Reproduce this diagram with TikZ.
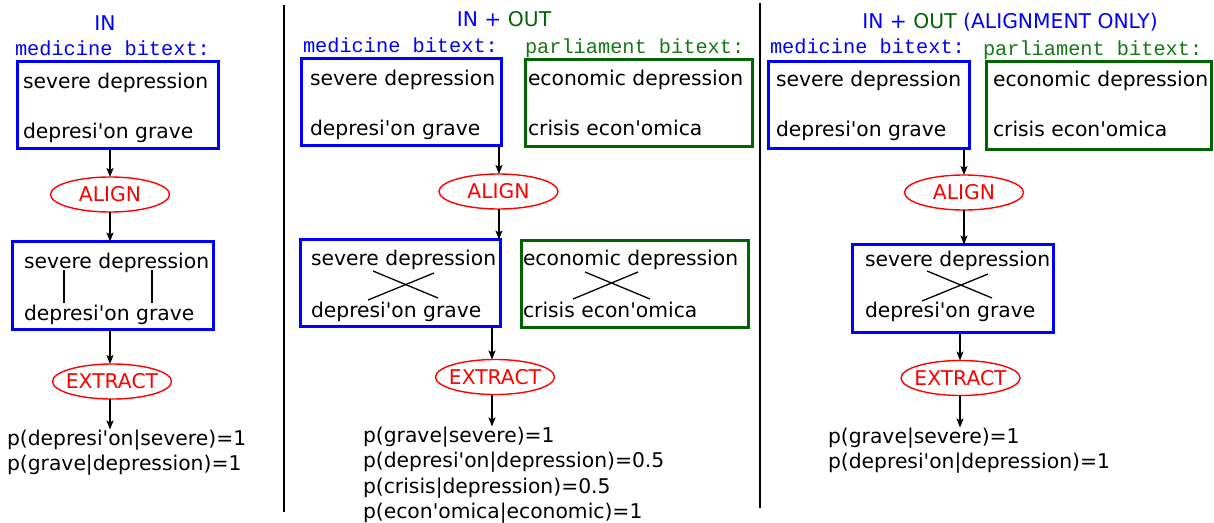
\documentclass[tikz,border=0pt]{standalone}
\usepackage{fontspec}
\setmainfont{DejaVu Sans}[Ligatures=TeXOff]
\setmonofont{Liberation Mono}[Ligatures=TeXOff]
\usetikzlibrary{shapes.geometric,arrows.meta}
\definecolor{ogreen}{RGB}{0,100,0}
\definecolor{lgreen}{RGB}{20,120,20}
\begin{document}
\begin{tikzpicture}[x=1pt,y=-1pt,
  every node/.style={inner sep=0pt, outer sep=0pt},
  txt/.style={anchor=base west, font=\fontsize{20.3}{24}\selectfont},
  lbl/.style={anchor=base west, font=\fontsize{20.3}{24}\selectfont\ttfamily},
  ttl/.style={anchor=base, font=\fontsize{20.3}{24}\selectfont},
  bbox/.style={draw=blue, line width=3pt, rectangle},
  gbox/.style={draw=ogreen, line width=3pt, rectangle},
  op/.style={ellipse, draw=red, text=red, line width=1.4pt, inner xsep=-6pt, minimum width=119pt, minimum height=35pt, font=\fontsize{20.3}{24}\selectfont},
  arr/.style={-{Stealth[length=9pt,width=7pt,inset=2pt]}, line width=1.4pt},
  aln/.style={line width=1.3pt},
  sepline/.style={line width=1.5pt}]
\useasboundingbox (0,0) rectangle (1214,522);

% separators
\coordinate (s1a) at (284,5); \coordinate (s1b) at (284,512);
\coordinate (s2a) at (760,3); \coordinate (s2b) at (760,508);
\draw[sepline] (s1a) -- (s1b);
\draw[sepline] (s2a) -- (s2b);

% ================= Panel 1: IN =================
\node[ttl, text=blue] (t1) at (105,30) {IN};
\node[lbl, text=blue] (m1) at (15,55) {medicine bitext:};
\node[bbox, minimum width=201pt, minimum height=87pt] (b11) at (118,105) {};
\node[txt] (s11) at (23,88) {severe depression};
\node[txt] (d11) at (23,138) {depresi'on grave};
\node[op] (al1) at (110,194.5) {ALIGN};
\node[bbox, minimum width=201pt, minimum height=88pt] (b12) at (113,285.5) {};
\node[txt] (s12) at (24,268) {severe depression};
\node[txt] (d12) at (24,320) {depresi'on grave};
\coordinate (a1t) at (64,270); \coordinate (a1b) at (64,303);
\coordinate (a2t) at (152,270); \coordinate (a2b) at (152,303);
\draw[aln] (a1t) -- (a1b);
\draw[aln] (a2t) -- (a2b);
\node[op] (ex1) at (112,381.5) {EXTRACT};
\node[txt] (p11) at (7,445) {p(depresi'on|severe)=1};
\node[txt] (p12) at (7,470) {p(grave|depression)=1};
\coordinate (x1) at (110,0);
\draw[arr] (x1 |- b11.south) -- (x1 |- al1.north);
\draw[arr] (x1 |- al1.south) -- (x1 |- b12.north);
\draw[arr] (x1 |- b12.south) -- (x1 |- ex1.north);
\draw[arr] (x1 |- ex1.south) -- (x1 |- p11.north);

% ================= Panel 2: IN + OUT =================
\node[ttl] (t2) at (504,27) {\textcolor{blue}{IN +\ }\textcolor{ogreen}{OUT}};
\node[lbl, text=blue] (m2) at (303,52) {medicine bitext:};
\node[lbl, text=lgreen] (q2) at (525,53) {parliament bitext:};
\node[bbox, minimum width=200pt, minimum height=87pt] (b21) at (401.5,102) {};
\node[txt] (s21) at (310,85) {severe depression};
\node[txt] (d21) at (310,135) {depresi'on grave};
\node[gbox, minimum width=227pt, minimum height=87pt] (g21) at (639,103) {};
\node[txt] (e21) at (528,85) {economic depression};
\node[txt] (c21) at (528,135) {crisis econ'omica};
\node[op] (al2) at (498.5,191.5) {ALIGN};
\node[bbox, minimum width=200pt, minimum height=87pt] (b22) at (400.5,283) {};
\node[txt] (s22) at (311,265) {severe depression};
\node[txt] (d22) at (311,317) {depresi'on grave};
\draw[aln] (373,271) -- (438,298);
\draw[aln] (434,273) -- (368,300);
\node[gbox, minimum width=227pt, minimum height=87pt] (g22) at (635,284) {};
\node[txt] (e22) at (523,265) {economic depression};
\node[txt] (c22) at (523,317) {crisis econ'omica};
\draw[aln] (585,272) -- (650,299);
\draw[aln] (638,272) -- (573,299);
\node[op] (ex2) at (495,377) {EXTRACT};
\node[txt] (p21) at (363,442) {p(grave|severe)=1};
\node[txt] (p22) at (363,467) {p(depresi'on|depression)=0.5};
\node[txt] (p23) at (363,493) {p(crisis|depression)=0.5};
\node[txt] (p24) at (363,518) {p(econ'omica|economic)=1};
\coordinate (x2a) at (499,0); \coordinate (x2b) at (492,0);
\draw[arr] (x2a |- b21.south) -- (x2a |- al2.north);
\draw[arr] (x2a |- al2.south) -- (x2a |- b22.north);
\draw[arr] (x2b |- b22.south) -- (x2b |- ex2.north);
\draw[arr] (x2b |- ex2.south) -- (x2b |- p21.north);

% ================= Panel 3: IN + OUT (ALIGNMENT ONLY) =================
\node[ttl] (t3) at (1010,28) {\textcolor{blue}{IN +\ }\textcolor{ogreen}{OUT}\textcolor{blue}{\ (ALIGNMENT ONLY)}};
\node[lbl, text=blue] (m3) at (770,53) {medicine bitext:};
\node[lbl, text=lgreen] (q3) at (983,55) {parliament bitext:};
\node[bbox, minimum width=201pt, minimum height=87pt] (b31) at (869,105) {};
\node[txt] (s31) at (776,86) {severe depression};
\node[txt] (d31) at (776,136) {depresi'on grave};
\node[gbox, minimum width=225pt, minimum height=88pt] (g31) at (1099,105.5) {};
\node[txt] (e31) at (993,86) {economic depression};
\node[txt] (c31) at (993,136) {crisis econ'omica};
\node[op] (al3) at (964,192.5) {ALIGN};
\node[bbox, minimum width=201pt, minimum height=88pt] (b32) at (953,288.5) {};
\node[txt] (s32) at (865,266) {severe depression};
\node[txt] (d32) at (865,317) {depresi'on grave};
\draw[aln] (927,271) -- (992,298);
\draw[aln] (988,274) -- (922,301);
\node[op] (ex3) at (960.5,378) {EXTRACT};
\node[txt] (p31) at (828,443) {p(grave|severe)=1};
\node[txt] (p32) at (828,468) {p(depresi'on|depression)=1};
\coordinate (x3a) at (964,0); \coordinate (x3b) at (960,0);
\draw[arr] (x3a |- b31.south) -- (x3a |- al3.north);
\draw[arr] (x3a |- al3.south) -- (x3a |- b32.north);
\draw[arr] (x3b |- b32.south) -- (x3b |- ex3.north);
\draw[arr] (x3b |- ex3.south) -- (x3b |- p31.north);
\end{tikzpicture}
\end{document}
